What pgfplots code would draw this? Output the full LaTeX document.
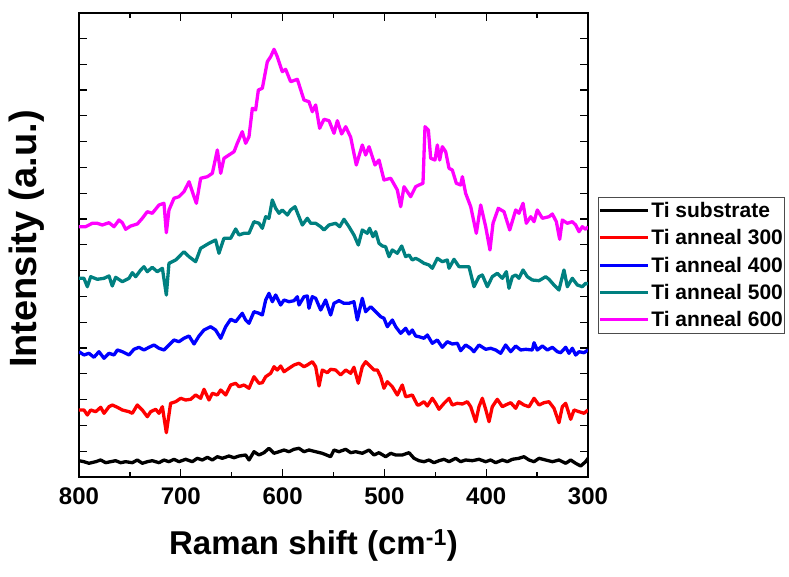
\documentclass[border=0pt]{standalone}
\usepackage{pgfplots}
\pgfplotsset{compat=1.18}
\usepackage{fontspec}
\setmainfont{Liberation Sans}
\definecolor{myteal}{RGB}{0,128,128}
\definecolor{mymag}{RGB}{255,0,255}
\begin{document}
\begin{tikzpicture}
\begin{axis}[
  scale only axis, width=509pt, height=464pt,
  at={(0pt,0pt)}, anchor=south west,
  x dir=reverse, xmin=300, xmax=800,
  ymin=0, ymax=464,
  xtick={300,400,500,600,700,800}, minor x tick num=1,
  ytick={25.8,51.6,77.4,103.2,129,154.8,180.6,206.4,232.2,258,283.8,309.6,335.4,361.2,387,412.8,438.6},
  yticklabels={},
  tick align=inside, xtick pos=both, ytick pos=both,
  major tick length=8pt, minor tick length=5pt,
  axis line style={line width=1.5pt},
  every tick/.style={line width=1.3pt, black},
  /pgf/number format/assume math mode=true,
  xticklabel style={font=\bfseries\fontsize{24}{24}\selectfont, yshift=-7pt},
  xlabel={Raman shift (cm\textsuperscript{-1})},
  xlabel style={font=\bfseries\fontsize{33}{33}\selectfont, at={(axis description cs:0.5,0)}, anchor=center, yshift=-68pt, xshift=-20pt},
  ylabel={Intensity (a.u.)},
  ylabel style={font=\bfseries\fontsize{38}{38}\selectfont, at={(axis description cs:0,0.5)}, anchor=center, yshift=52pt, xshift=6pt},
  legend style={at={(axis description cs:1.0196,0.6034)}, anchor=north west, draw=black!70, line width=0.8pt,
    font=\bfseries\fontsize{21}{21}\selectfont, row sep=6.5pt, inner xsep=0pt, inner ysep=3pt},
  legend cell align=left,
  legend image code/.code={\draw[#1, line width=3pt] (0pt,0pt) -- (48pt,0pt);},
  every axis plot/.append style={line width=3.3pt, line join=round},
]
% Ti substrate
\addplot[black] coordinates {
(800,16.3) (795.1,15.3) (790.2,13.7) (783.6,15.3) (778.7,17.0) (773.8,14.3) (768.9,15.3) (764.0,16.3) (759.1,14.3) (754.2,15.3) (747.6,14.3) (742.7,17.0) (737.8,13.7) (732.9,15.3) (728.0,16.3) (721.4,14.3) (716.5,17.0) (711.6,15.3) (706.7,17.7) (701.8,15.3) (695.2,17.7) (688.7,15.3) (683.8,18.7) (678.8,17.0) (673.9,19.7) (669.0,17.0) (664.1,20.3) (659.2,18.7) (652.7,21.0) (647.7,19.3) (642.8,21.0) (636.3,22.0)
(633.0,17.0) (628.1,25.3) (623.2,22.0) (618.3,24.3) (613.4,28.7) (608.4,23.7) (603.5,25.3) (598.6,27.0) (593.7,25.3) (588.8,27.7) (583.9,28.7) (579.0,25.3) (574.1,27.0) (567.5,25.3) (561.0,23.7) (552.8,20.3) (549.5,27.0) (544.6,25.3) (538.0,27.7) (533.1,24.3) (528.2,25.3) (521.7,23.7) (515.1,27.0) (510.2,22.0) (505.3,24.3) (498.8,20.3) (493.8,23.7) (488.9,22.0) (482.4,22.0) (475.8,24.3) (470.9,18.7)
(466.0,16.3) (461.1,15.3) (456.2,17.0) (451.3,14.3) (446.4,16.3) (441.4,17.7) (436.5,15.3) (430.0,18.7) (425.1,15.3) (420.2,17.0) (413.6,16.3) (407.1,17.7) (400.5,15.3) (395.6,17.0) (390.7,14.3) (384.1,17.0) (379.2,15.3) (374.3,17.7) (367.8,18.7) (362.9,20.3) (357.9,17.0) (353.0,15.3) (348.1,18.7) (341.6,17.0) (335.0,15.3) (328.5,17.0) (321.9,13.7) (317.0,17.0) (312.1,13.7) (307.2,11.0) (302.3,15.3) (300.0,18.7)
};
\addlegendentry{Ti substrate}
% Ti anneal 300
\addplot[red] coordinates {
(800,67.0) (795.1,67.0) (791.8,62.0) (788.5,67.0) (783.6,65.3) (778.7,69.7) (775.4,63.7) (770.5,70.3) (767.3,72.0) (762.3,69.7) (757.4,67.0) (750.9,65.3) (747.6,63.7) (742.7,72.0) (737.8,67.0) (732.9,60.3) (729.6,65.3) (724.7,67.7) (721.4,63.7) (718.1,70.3) (714.2,44.3) (710.0,73.7) (705.0,75.3) (700.1,78.7) (695.2,77.0) (690.3,77.7) (685.4,82.0) (680.5,78.7) (677.2,87.7) (672.3,77.0) (669.0,83.7) (664.1,82.0) (660.8,87.0) (655.9,82.0) (651.0,92.0) (646.1,93.7) (642.8,90.3) (637.9,92.0)
(633.0,88.7) (628.1,100.3) (623.2,93.7) (619.9,94.3) (616.6,100.3) (611.7,103.7) (608.4,110.3) (605.2,107.0) (601.9,111.0) (598.6,105.3) (593.7,108.7) (588.8,112.0) (583.9,113.7) (579.0,110.3) (575.7,112.0) (570.8,115.3) (567.5,110.3) (564.2,91.0) (561.0,107.0) (556.1,104.3) (552.8,107.7) (547.9,107.0) (543.0,102.0) (538.0,107.0) (533.1,103.7) (529.9,109.7) (525.6,93.7) (521.7,110.3) (518.4,115.3) (513.5,110.3) (510.2,107.0) (506.9,107.0) (503.7,100.3) (500.4,88.7) (497.1,95.3) (492.2,90.3) (487.3,82.0) (482.4,92.0) (479.1,80.3) (475.8,81.0) (472.6,82.0) (467.6,72.0)
(466.0,72.0) (461.1,75.3) (457.8,71.0) (452.9,78.7) (449.6,73.7) (446.4,67.7) (441.4,73.7) (436.5,78.7) (433.3,72.0) (428.3,73.7) (423.4,73.0) (418.5,75.3) (415.2,70.3) (410.3,55.3) (407.1,70.3) (403.8,78.7) (400.5,67.7) (397.2,55.3) (394.0,70.3) (389.1,77.7) (384.1,70.3) (380.9,72.0) (375.9,74.3) (371.0,68.7) (367.8,75.3) (362.9,72.0) (357.9,70.3) (353.0,78.7) (348.1,72.0) (343.2,74.3) (338.3,75.3) (333.4,68.7) (328.5,54.3) (325.2,70.3) (321.9,73.7) (317.0,57.7) (313.7,67.0) (308.8,65.3) (303.9,63.7) (300.0,67.0)
};
\addlegendentry{Ti anneal 300}
% Ti anneal 400
\addplot[blue] coordinates {
(800,125.3) (795.1,122.0) (790.2,123.7) (785.3,119.7) (780.4,125.3) (775.4,118.7) (770.5,123.7) (765.6,122.0) (762.3,127.0) (757.4,125.3) (750.9,122.0) (746.0,127.7) (741.1,129.7) (736.2,127.0) (731.2,129.7) (726.3,132.0) (721.4,128.7) (716.5,127.0) (711.6,132.0) (706.7,137.0) (701.8,135.3) (696.9,138.7) (691.9,141.0) (687.0,133.0) (682.1,141.0) (677.2,147.0) (670.7,150.3) (665.8,147.0) (660.8,138.7) (655.9,150.3) (651.0,157.7) (646.1,155.3) (639.6,163.7) (636.3,157.0)
(633.0,153.7) (628.1,165.3) (623.2,163.7) (619.9,162.0) (616.6,177.0) (613.4,183.7) (610.1,175.3) (606.8,182.0) (601.9,172.0) (598.6,177.0) (593.7,175.3) (588.8,176.3) (585.5,180.3) (583.9,172.0) (579.0,180.3) (575.7,181.0) (574.1,168.7) (570.8,180.3) (567.5,178.7) (562.6,167.0) (557.7,177.0) (552.8,162.0) (549.5,173.7) (544.6,176.3) (539.7,173.7) (534.8,173.7) (529.9,175.3) (526.6,157.0) (521.7,178.7) (518.4,165.3) (513.5,170.3) (508.6,165.3) (503.7,160.3) (500.4,158.7) (497.1,150.3) (492.2,157.0) (488.9,150.3) (484.0,143.7) (479.1,148.7) (475.8,143.0) (472.6,147.0) (469.3,141.0)
(466.0,140.3) (461.1,138.7) (457.8,142.0) (452.9,133.7) (448.0,137.0) (443.1,129.7) (438.2,135.3) (433.3,133.0) (428.3,133.7) (425.1,126.3) (420.2,132.0) (415.2,128.7) (412.0,125.3) (407.1,132.0) (400.5,127.7) (395.6,128.7) (390.7,127.0) (385.8,123.7) (380.9,132.0) (375.9,125.3) (371.0,131.0) (366.1,127.0) (361.2,127.7) (354.7,127.0) (353.0,134.3) (349.8,127.0) (344.8,131.0) (339.9,127.0) (335.0,129.7) (330.1,125.3) (326.8,124.3) (321.9,129.7) (318.7,123.7) (315.4,128.7) (312.1,122.0) (308.8,125.3) (303.9,124.3) (300.0,127.0)
};
\addlegendentry{Ti anneal 400}
% Ti anneal 500
\addplot[myteal] coordinates {
(800,198.7) (795.1,198.7) (791.8,190.3) (788.5,200.3) (782.0,197.7) (775.4,198.7) (770.5,201.0) (767.3,191.0) (764.0,199.7) (757.4,195.3) (750.9,198.7) (747.6,204.3) (744.3,200.3) (739.4,207.0) (736.2,210.3) (732.9,205.3) (728.0,209.7) (723.1,205.3) (718.1,208.7) (714.2,182.0) (711.6,213.7) (705.0,217.0) (696.9,225.3) (691.9,220.3) (685.4,215.3) (680.5,228.7) (672.3,233.7) (665.8,237.0) (662.5,223.7) (657.6,238.7) (651.0,238.7) (646.1,248.0) (642.8,242.0) (637.9,243.7)
(633.0,243.7) (628.1,255.3) (623.2,253.7) (619.9,248.7) (616.6,260.3) (613.4,258.7) (610.1,277.0) (606.8,268.7) (603.5,263.7) (600.3,267.0) (595.3,262.0) (592.1,267.0) (587.8,270.3) (583.9,260.3) (580.6,252.0) (575.7,258.7) (572.4,253.7) (567.5,253.7) (562.6,250.3) (559.3,247.0) (554.4,252.0) (547.9,253.7) (543.9,250.3) (539.7,257.7) (534.8,250.3) (529.9,242.0) (525.6,232.0) (521.7,247.0) (516.8,243.7) (514.5,248.7) (511.2,240.3) (508.6,245.3) (505.3,233.7) (502.0,231.0) (498.8,230.3) (495.5,220.3) (492.2,227.0) (487.3,223.7) (483.0,231.0) (479.1,220.3) (475.8,222.0) (472.6,217.0) (469.3,218.7)
(466.0,217.0) (461.1,213.7) (456.2,212.0) (452.9,208.7) (448.0,218.7) (443.1,215.3) (438.2,217.0) (436.5,208.7) (431.6,217.7) (426.7,210.3) (416.9,210.3) (412.0,190.3) (407.1,200.3) (403.8,202.0) (398.9,190.3) (394.0,200.3) (389.1,203.7) (384.1,198.7) (380.2,205.3) (377.6,188.7) (374.3,200.3) (371.0,202.0) (367.8,198.7) (363.8,207.0) (359.6,200.3) (354.7,197.0) (348.1,196.3) (341.6,200.3) (338.3,197.7) (333.4,192.0) (328.5,187.0) (323.6,207.0) (320.3,190.3) (315.4,198.7) (310.5,192.0) (305.6,190.3) (302.3,193.7) (300.0,193.0)
};
\addlegendentry{Ti anneal 500}
% Ti anneal 600
\addplot[mymag] coordinates {
(800,250.3) (793.5,250.3) (786.9,253.7) (782.0,253.7) (777.1,252.0) (770.5,254.3) (765.6,250.3) (760.7,257.0) (757.4,254.3) (754.2,247.7) (749.2,251.0) (742.7,253.0) (737.8,258.7) (732.9,265.3) (728.0,263.7) (721.4,272.0) (716.5,273.7) (714.2,244.3) (711.6,267.0) (706.7,278.7) (701.8,280.3) (696.9,285.3) (691.9,295.3) (687.0,280.3) (684.7,273.7) (680.5,298.7) (673.9,300.3) (669.0,303.7) (664.1,327.0) (660.8,303.7) (657.6,318.7) (652.7,322.0) (647.7,325.3) (644.5,333.7) (639.6,345.3) (636.3,333.7)
(633.0,340.3) (629.7,368.7) (626.5,367.0) (623.8,387.0) (619.9,388.7) (615.0,415.3) (611.7,420.3) (608.4,427.7) (605.2,420.3) (600.3,405.3) (597.0,407.7) (592.1,395.3) (585.5,397.7) (579.0,377.0) (574.1,375.3) (570.8,365.3) (567.5,372.0) (563.6,348.7) (559.3,357.7) (554.4,356.3) (549.5,343.7) (546.2,356.3) (542.0,343.0) (538.0,350.3) (533.1,339.7) (527.6,312.0) (521.7,332.0) (518.4,322.0) (515.1,330.3) (509.2,312.0) (505.3,317.0) (500.4,297.0) (493.8,298.7) (487.3,287.0) (484.0,270.3) (480.7,290.3) (474.2,280.3) (469.3,290.3)
(466.0,292.0) (462.1,293.7) (460.1,350.3) (456.8,347.0) (454.5,318.7) (450.3,317.0) (448.0,332.0) (445.7,317.0) (443.1,330.3) (439.8,325.3) (436.5,308.7) (433.3,307.0) (429.3,293.7) (425.1,292.0) (423.4,300.3) (420.2,283.7) (415.2,270.3) (409.7,243.7) (405.4,272.0) (400.5,250.3) (396.3,227.0) (393.3,253.7) (388.1,268.7) (382.5,265.3) (376.9,247.0) (371.0,267.0) (367.8,263.7) (363.8,273.7) (360.6,253.7) (356.3,260.3) (353.0,255.3) (349.8,267.0) (344.8,258.7) (338.3,260.3) (335.0,263.0) (331.1,255.3) (327.8,237.7) (325.2,257.0) (320.3,253.7) (315.4,255.3) (312.1,252.0) (308.8,245.3) (305.6,250.3) (302.3,247.7) (300.0,250.3)
};
\addlegendentry{Ti anneal 600}
\end{axis}
\pgfresetboundingbox
\path[use as bounding box] (-79pt,-100pt) rectangle (710pt,477pt);
\end{tikzpicture}
\end{document}
